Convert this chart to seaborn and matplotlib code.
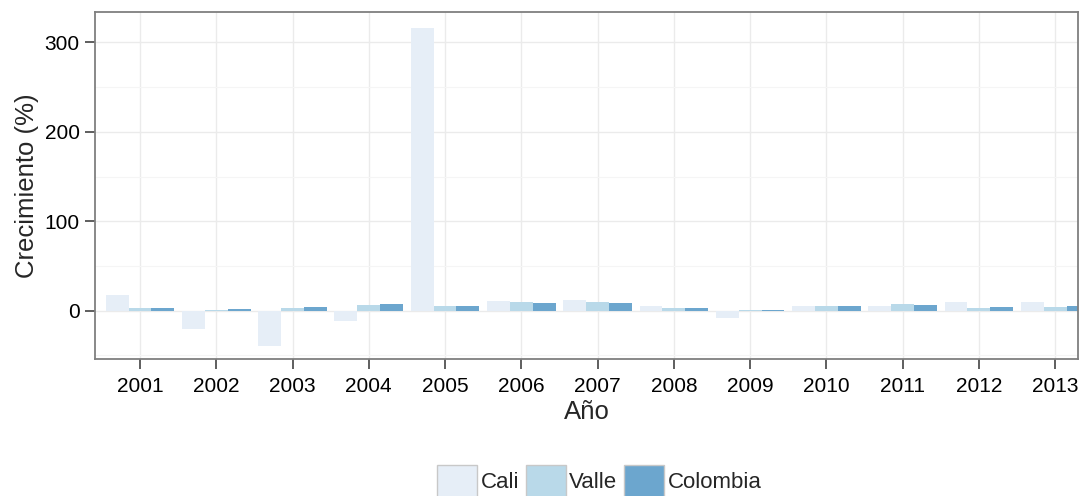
import matplotlib
matplotlib.use("Agg")
import matplotlib.pyplot as plt
from matplotlib.patches import Patch
from matplotlib.ticker import MultipleLocator
import seaborn as sns
import pandas as pd

years = ["2001", "2002", "2003", "2004", "2005", "2006", "2007",
         "2008", "2009", "2010", "2011", "2012", "2013"]
cali = [18, -20, -40, -11, 316, 10.5, 11.6, 4.9, -8.6, 4.9, 4.9, 9.3, 9.3]
valle = [2.8, 0.5, 2.5, 6.2, 5.6, 9.3, 9.3, 2.6, 0.4, 4.9, 7.1, 2.6, 3.7]
colombia = [2.8, 1.5, 3.8, 7.3, 5.6, 8.2, 8.2, 2.6, 0.4, 4.9, 6.0, 3.7, 4.9]
series = ["Cali", "Valle", "Colombia"]
colors = ["#E6EEF7", "#B9D9E9", "#6CA6CE"]

df = pd.DataFrame({
    "Año": years * 3,
    "Crecimiento": cali + valle + colombia,
    "Serie": [s for s in series for _ in years],
})

sns.set_theme(style="white")
plt.rcParams["font.family"] = ["Liberation Sans", "DejaVu Sans"]

fig = plt.figure(figsize=(10.8, 4.96), dpi=100)
ax = fig.add_axes([95 / 1080, 1 - 359 / 496, (1078 - 95) / 1080, (359 - 12) / 496])

sns.barplot(data=df, x="Año", y="Crecimiento", hue="Serie", hue_order=series,
            palette=colors, width=0.9, gap=0, saturation=1, linewidth=0,
            legend=False, ax=ax)

ax.set_xlim(-0.59, 12.30)
ax.set_ylim(-54, 334)
ax.yaxis.set_major_locator(MultipleLocator(100))
ax.yaxis.set_minor_locator(MultipleLocator(50))
ax.set_axisbelow(True)
ax.grid(True, which="major", color="#EBEBEB", linewidth=1.0)
ax.grid(True, which="minor", axis="y", color="#F5F5F5", linewidth=0.8)

for s in ax.spines.values():
    s.set_color("#7F7F7F")
    s.set_linewidth(1.3)

ax.tick_params(axis="both", which="major", direction="out", length=7,
               width=1.1, color="#333333", labelsize=15, labelcolor="#000000",
               bottom=True, left=True, pad=4)
ax.tick_params(axis="x", which="major", pad=6)
ax.tick_params(axis="both", which="minor", length=0)

ax.set_xlabel("Año", fontsize=18.5, labelpad=3)
ax.set_ylabel("Crecimiento (%)", fontsize=18.5, labelpad=4)

handles = [Patch(facecolor=c, edgecolor="#C8C8C8", linewidth=1.0, label=s)
           for s, c in zip(series, colors)]
fig.legend(handles=handles, loc="center", bbox_to_anchor=(0.555, 1 - 481 / 496),
           ncol=3, frameon=False, fontsize=16, handlelength=1.8,
           handleheight=1.9, handletextpad=0.15, columnspacing=0.3,
           borderaxespad=0, borderpad=0)

fig.savefig("out.png", dpi=100)
